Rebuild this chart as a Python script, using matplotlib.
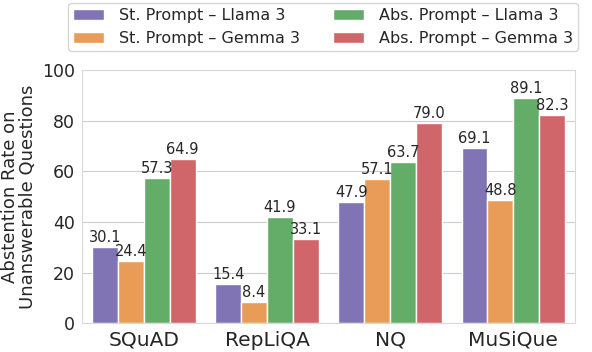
import matplotlib

matplotlib.use("Agg")
import matplotlib.pyplot as plt
import numpy as np
import seaborn as sns

datasets = ["SQuAD", "RepLiQA", "NQ", "MuSiQue"]
series_names = [
    "St. Prompt – Llama 3",
    "St. Prompt – Gemma 3",
    "Abs. Prompt – Llama 3",
    "Abs. Prompt – Gemma 3",
]
st_llama = [30.1, 15.4, 47.9, 69.1]
st_gemma = [24.4, 8.4, 57.1, 48.8]
abs_llama = [57.3, 41.9, 63.7, 89.1]
abs_gemma = [64.9, 33.1, 79.0, 82.3]
colors = ["#8074b4", "#e89c58", "#64ad68", "#d0666a"]

sns.set_style("whitegrid")
plt.rcParams["font.family"] = ["DejaVu Sans"]

fig, ax = plt.subplots(figsize=(5.92, 3.52), dpi=100)
fig.subplots_adjust(left=0.139, right=0.971, bottom=0.082, top=0.801)

x = np.arange(len(datasets))
width = 0.21
all_series = [st_llama, st_gemma, abs_llama, abs_gemma]
for i, (vals, name, c) in enumerate(zip(all_series, series_names, colors)):
    offs = (i - 1.5) * width
    bars = ax.bar(x + offs, vals, width, label=name, color=c,
                  edgecolor="white", linewidth=1.0)
    ax.bar_label(bars, labels=[f"{v:.1f}" for v in vals], padding=1.5,
                 fontsize=10.5, color="#262626")

ax.set_xlim(-0.5, 3.5)
ax.set_ylim(0, 100)
ax.set_xticks(x)
ax.set_xticklabels(datasets, fontsize=14.5)
ax.tick_params(axis="y", labelsize=12.5, pad=2)
ax.tick_params(axis="x", pad=2)
ax.set_ylabel("Abstention Rate on\nUnanswerable Questions", fontsize=13,
              labelpad=3, linespacing=1.0)
ax.xaxis.grid(False)
for s in ax.spines.values():
    s.set_color("#d9d9d9")

ax.legend(loc="lower center", bbox_to_anchor=(0.489, 1.045), ncol=2,
          fontsize=11.5, frameon=True, handlelength=1.95, columnspacing=2.1,
          handletextpad=0.9, borderpad=0.3, labelspacing=0.5)

fig.savefig("out.png", dpi=100)
